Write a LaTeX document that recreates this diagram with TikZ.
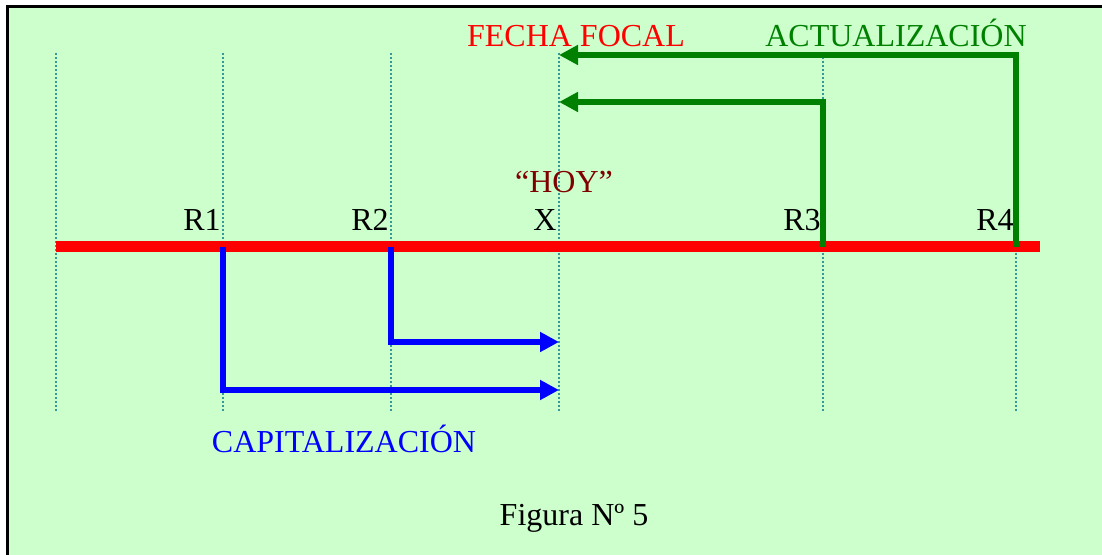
\documentclass[tikz,border=0pt]{standalone}
\usepackage{fontspec}
\setmainfont{Liberation Serif}
\usepackage{xcolor}
\usepackage{tikz}
\usetikzlibrary{arrows.meta}

\definecolor{fondo}{HTML}{CCFFCC}
\definecolor{guia}{HTML}{339999}
\definecolor{hoyrojo}{HTML}{800000}
\definecolor{verde}{HTML}{008000}

\begin{document}
\begin{tikzpicture}[x=0.5pt,y=-0.5pt,
  txt/.style={inner sep=0pt,font=\fontsize{16}{19}\selectfont},
  guide/.style={guia,line width=0.9pt,dash pattern=on 0.9pt off 1.1pt},
  flecha/.style={line width=2.8pt,-{Triangle[length=9.5pt,width=9.5pt]}}]

  % Frame
  \useasboundingbox (0,0) rectangle (1102,555);
  \fill[white] (0,0) rectangle (1102,555);
  \fill[fondo] (7,7) rectangle (1102,555);
  \draw[line width=1.5pt] (7,555) -- (7,7) -- (1102,7);

  % Dotted guides and time points on the axis
  \foreach \xx/\nm in {56/t0, 223/r1, 391/r2, 559/x, 823/r3, 1016/r4}{
    \draw[guide] (\xx,53) -- (\xx,412);
    \coordinate (\nm) at (\xx,247);
  }

  % Axis
  \draw[red,line width=5.5pt] (t0) -- (1040,247) coordinate (fin);

  % Labels above the axis
  \foreach \nm/\lbl in {r1/R1, r2/R2, x/X, r3/R3, r4/R4}{
    \node[txt,anchor=base east] (l\nm) at ([xshift=-1] \nm |- 0,231) {\lbl};
  }
  \node[txt,hoyrojo,anchor=base] (hoy) at (564,193) {``HOY''};

  % Actualizacion (green)
  \coordinate (a4) at (559,55);
  \coordinate (a3) at (559,102);
  \draw[flecha,verde] (r4) |- (a4);
  \draw[flecha,verde] (r3) |- (a3);
  \node[txt,red,anchor=base] (focal) at (576,47) {FECHA FOCAL};
  \node[txt,verde,anchor=base] (actual) at (896,47) {ACTUALIZACIÓN};

  % Capitalizacion (blue)
  \coordinate (c1) at (559,390);
  \coordinate (c2) at (559,342);
  \draw[flecha,blue] (r1) |- (c1);
  \draw[flecha,blue] (r2) |- (c2);
  \node[txt,blue,anchor=base] (capital) at (344,452) {CAPITALIZACIÓN};

  % Caption
  \node[txt,anchor=base] (figura) at (574,525) {Figura Nº 5};

\end{tikzpicture}
\end{document}
